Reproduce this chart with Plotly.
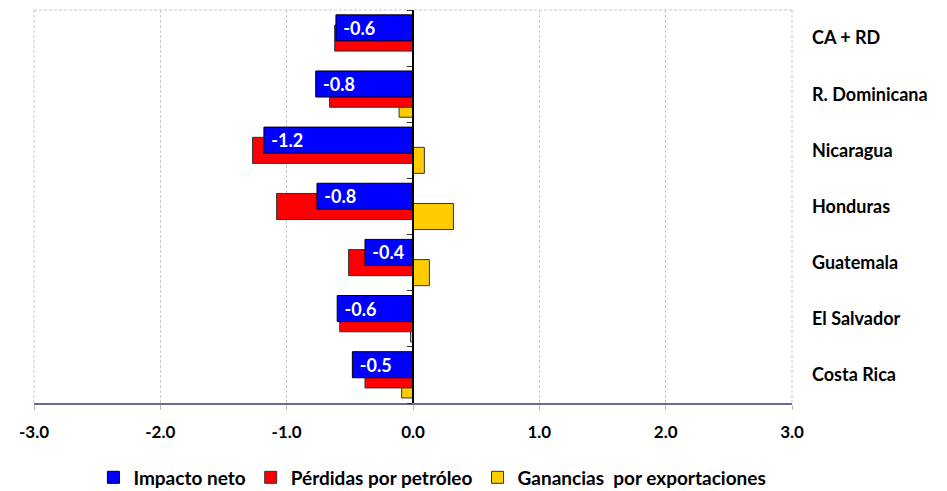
import plotly.graph_objects as go

# categories from bottom to top
paises = ["Costa Rica", "El Salvador", "Guatemala", "Honduras",
          "Nicaragua", "R. Dominicana", "CA + RD"]
impacto_neto = [-0.48, -0.60, -0.38, -0.76, -1.18, -0.77, -0.61]
perdidas_petroleo = [-0.38, -0.58, -0.51, -1.08, -1.27, -0.66, -0.62]
ganancias_export = [-0.09, -0.02, 0.13, 0.32, 0.09, -0.11, 0.0]

x_ticks = [-3, -2, -1, 0, 1, 2, 3]
x_tick_labels = ["-3.0", "-2.0", "-1.0", "0.0", "1.0", "2.0", "3.0"]

FONT = "Lato, Calibri, sans-serif"
BAR_W = 0.464
borde = dict(color="#333333", width=1)
GRID = dict(color="#C8C8C8", width=1, dash="3px,2px")

fig = go.Figure()

# drawn back to front: yellow, red, blue
fig.add_trace(go.Bar(
    y=paises, x=ganancias_export, orientation="h",
    name="Ganancias  por exportaciones",
    marker=dict(color="#FFCC00", line=borde),
    width=BAR_W, offset=-0.41, hoverinfo="skip",
))
fig.add_trace(go.Bar(
    y=paises, x=perdidas_petroleo, orientation="h",
    name="Pérdidas por petróleo",
    marker=dict(color="#FF0000", line=borde),
    width=BAR_W, offset=-0.232, hoverinfo="skip",
))
fig.add_trace(go.Bar(
    y=paises, x=impacto_neto, orientation="h",
    name="Impacto neto",
    marker=dict(color="#0000FF", line=dict(color="#000000", width=1)),
    width=BAR_W, offset=-0.05,
    text=["\u00a0" + f"{v:.1f}" for v in impacto_neto],
    textposition="inside", insidetextanchor="end",
    textangle=0, constraintext="none",
    textfont=dict(family=FONT, size=18, color="white", weight="bold"),
    hoverinfo="skip",
))

# dummy trace so the zero-axis (yaxis2) gets drawn
fig.add_trace(go.Scatter(x=[None], y=[None], yaxis="y2", showlegend=False,
                         hoverinfo="skip"))

# the page adds an 8px body margin, so the figure is 8px smaller
fig.update_layout(
    width=939, height=483,
    margin=dict(l=26, r=155, t=2, b=88, autoexpand=False),
    plot_bgcolor="white", paper_bgcolor="white",
    barmode="overlay",
    font=dict(family=FONT, size=16, color="black", weight="bold"),
    showlegend=True,
    legend=dict(orientation="h", traceorder="reversed",
                xref="container", x=0.452, xanchor="center",
                yref="container", y=0.028, yanchor="middle",
                font=dict(family=FONT, size=19, weight="bold"),
                itemwidth=30, tracegroupgap=0),
    xaxis=dict(range=[-3, 3], tickvals=x_ticks, ticktext=x_tick_labels,
               showgrid=True, gridcolor=GRID["color"], griddash=GRID["dash"],
               gridwidth=1, zeroline=False, automargin=False,
               showline=True, linecolor="#6B6B9A", linewidth=2,
               ticks="outside", tickcolor="#BBBBBB", ticklen=5,
               tickfont=dict(family=FONT, size=17, weight="bold"),
               ticklabelstandoff=8),
    yaxis=dict(type="category", categoryarray=paises, range=[-0.5, 6.5],
               side="right", showgrid=False, zeroline=False,
               showline=False, ticks="", ticklabelstandoff=19,
               automargin=False,
               tickfont=dict(family=FONT, size=18, weight="bold")),
    yaxis2=dict(overlaying="y", anchor="free", position=0.5,
                range=[-0.5, 6.5], tickmode="linear", tick0=-0.5, dtick=1,
                ticks="outside", ticklen=5, tickcolor="#333333",
                showticklabels=False, showgrid=False, zeroline=False,
                automargin=False,
                showline=True, linecolor="black", linewidth=2),
    # dashed frame on top, left and right of the plot area
    shapes=[
        dict(type="line", xref="paper", yref="paper",
             x0=0, x1=1, y0=1, y1=1, line=GRID, layer="below"),
        dict(type="line", xref="paper", yref="paper",
             x0=0, x1=0, y0=0, y1=1, line=GRID, layer="below"),
        dict(type="line", xref="paper", yref="paper",
             x0=1, x1=1, y0=0, y1=1, line=GRID, layer="below"),
    ],
)

fig.write_html("out.html")
